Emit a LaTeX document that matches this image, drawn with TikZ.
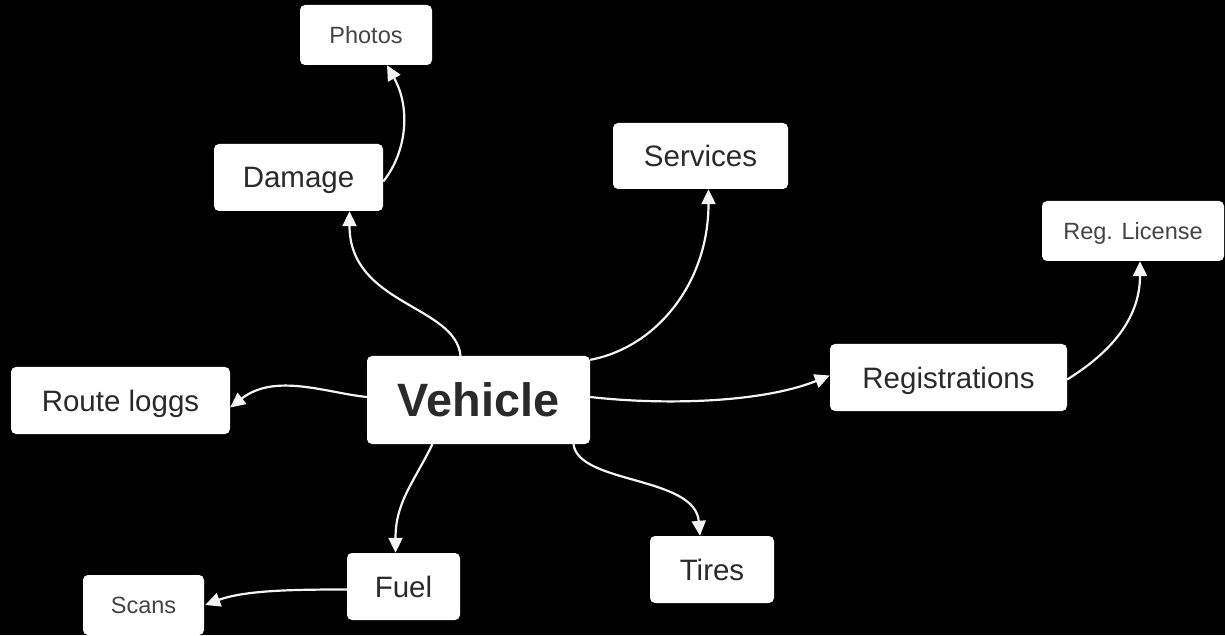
\documentclass[tikz,border=0pt]{standalone}
\usepackage{fontspec}
\setmainfont{Liberation Sans}
\usetikzlibrary{positioning,calc,arrows.meta}
\definecolor{mapBgBlack}{HTML}{000000}
\definecolor{mapBoxWhite}{HTML}{FFFFFF}
\definecolor{mapTextDark}{HTML}{2A2A2A}
\definecolor{mapTextGrey}{HTML}{444444}
\definecolor{mapLineWhite}{HTML}{F4F4F4}

\begin{document}
\begin{tikzpicture}[x=1pt, y=1pt,
  mapbox/.style={fill=mapBoxWhite, rounded corners=5pt, inner sep=0pt,
    text=mapTextDark, font=\fontsize{29.5}{32}\selectfont,
    text height=21pt, text depth=0pt},
  mapsmall/.style={mapbox, text=mapTextGrey,
    font=\fontsize{23.5}{26}\selectfont, text height=16.8pt},
  maplink/.style={draw=mapLineWhite, line width=2.2pt,
    -{Triangle[length=15pt, width=14pt]}}]

% --- BACKGROUND (fixes the page size) ---
\fill[mapBgBlack] (0,0) rectangle (1225,635);

% --- CENTRE NODE ---
\node[mapbox, minimum width=223pt, minimum height=88pt, text height=33.5pt,
  font=\fontsize{46.8}{50}\selectfont\bfseries]
  (vehicle) at (478.5,235) {Vehicle};

% --- FIRST RING ---
\node[mapbox, minimum width=169pt, minimum height=67pt]
  (damage) at (298.5,457.5) {Damage};
\node[mapbox, minimum width=175pt, minimum height=66pt]
  (services) at (700.5,479) {Services};
\node[mapbox, minimum width=237pt, minimum height=67pt]
  (regs) at (948.5,257.5) {Registrations};
\node[mapbox, minimum width=219pt, minimum height=67pt]
  (route) at (120.5,234.5) {Route loggs};
\node[mapbox, minimum width=113pt, minimum height=67pt]
  (fuel) at (403.5,48.5) {Fuel};
\node[mapbox, minimum width=124pt, minimum height=67pt]
  (tires) at (712,65.5) {Tires};

% --- SECOND RING (smaller boxes) ---
\node[mapsmall, minimum width=132pt, minimum height=60pt]
  (photos) at (366,600) {Photos};
\node[mapsmall, minimum width=182pt, minimum height=60pt]
  (reglic) at (1133,404) {Reg. License};
\node[mapsmall, minimum width=121pt, minimum height=60pt]
  (scans) at (143.5,30) {Scans};

% --- LINKS FROM VEHICLE ---
\draw[maplink] ($(vehicle.north)+(-18,0)$)
  .. controls +(-5,51) and +(0,-94) .. ($(damage.south)+(51,0)$);
\draw[maplink] ($(vehicle.north east)+(0,-4)$)
  .. controls +(65,12) and +(0,-95) .. ($(services.south)+(8,0)$);
\draw[maplink] ($(vehicle.east)+(0,3)$)
  .. controls +(70,-8) and +(-70,-28) .. ($(regs.west)+(0,2)$);
\draw[maplink] ($(vehicle.west)+(0,3)$)
  .. controls +(-40,4) and +(45,35) .. ($(route.east)+(0,-7)$);
\draw[maplink] ($(vehicle.south)+(-46,0)$)
  .. controls +(-20,-40) and +(0,50) .. ($(fuel.north)+(-8,0)$);
\draw[maplink] ($(vehicle.south)+(95,0)$)
  .. controls +(5,-40) and +(-5,60) .. ($(tires.north)+(-12,0)$);

% --- LINKS TO SECOND RING ---
\draw[maplink] ($(damage.east)+(0,-4)$)
  .. controls +(22,27) and +(25,-45) .. ($(photos.south)+(21,0)$);
\draw[maplink] ($(regs.east)+(0,-2)$)
  .. controls +(40,25) and +(0,-60) .. ($(reglic.south)+(7,0)$);
\draw[maplink] ($(fuel.west)+(0,-3)$)
  .. controls +(-50,0) and +(40,15) .. ($(scans.east)+(1,0)$);

\end{tikzpicture}
\end{document}
